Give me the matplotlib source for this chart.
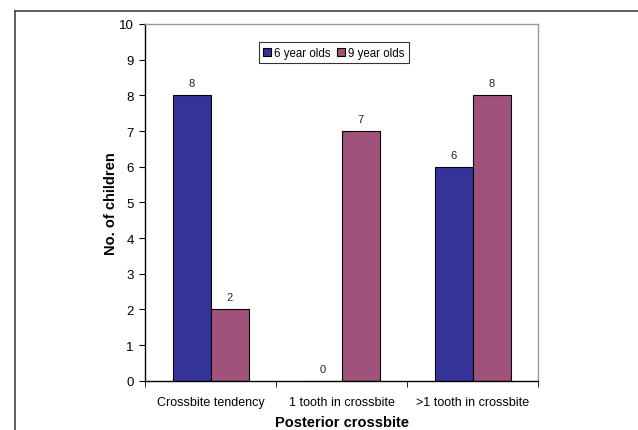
import numpy as np
import matplotlib
matplotlib.use('Agg')
from matplotlib import pyplot as plt
from matplotlib.lines import Line2D

plt.rcParams['font.family'] = ['Liberation Sans', 'DejaVu Sans']

categories = ['Crossbite tendency', '1 tooth in crossbite', '>1 tooth in crossbite']
six_year = [8, 0, 6]
nine_year = [2, 7, 8]
series_names = ['6 year olds', '9 year olds']
colors = ['#333399', '#A0527A']

fig = plt.figure(figsize=(6.38, 4.31), dpi=100)
ax = fig.add_axes([0.2273, 0.1144, 0.8433 - 0.2273, 0.942 - 0.1144])

x = np.arange(len(categories))
w = 0.29
b1 = ax.bar(x - w/2, six_year, w, color=colors[0], edgecolor='black', linewidth=0.8, label=series_names[0])
b2 = ax.bar(x + w/2, nine_year, w, color=colors[1], edgecolor='black', linewidth=0.8, label=series_names[1])

for bars, vals in ((b1, six_year), (b2, nine_year)):
    for r, v in zip(bars, vals):
        ax.text(r.get_x() + r.get_width()/2, v + 0.2, str(v), ha='center', va='bottom',
                fontsize=8, color='#222222')

ax.set_xlim(-0.5, 2.5)
ax.set_ylim(0, 10)
ax.set_yticks(range(11))
ax.set_xticks(x)
ax.set_xticklabels(categories, fontsize=9)
ax.tick_params(axis='x', length=0, pad=11)
ax.set_xticks([-0.5, 0.5, 1.5, 2.5], minor=True)
ax.tick_params(axis='x', which='minor', length=4, direction='out')
ax.tick_params(axis='y', labelsize=9.5, length=4, direction='out', pad=4)

for s in ['top', 'right']:
    ax.spines[s].set_color('#999999')
    ax.spines[s].set_linewidth(1)
for s in ['left', 'bottom']:
    ax.spines[s].set_color('black')
    ax.spines[s].set_linewidth(1)

ax.set_ylabel('No. of children', fontsize=10.5, fontweight='bold', labelpad=1)
ax.set_xlabel('Posterior crossbite', fontsize=10.5, fontweight='bold', labelpad=5)

leg = ax.legend(loc='upper center', bbox_to_anchor=(0.48, 0.949), ncol=2, fontsize=8.3,
                frameon=True, fancybox=False, edgecolor='black', handlelength=0.7,
                handleheight=0.7, handletextpad=0.2, columnspacing=0.6,
                borderpad=0.4, borderaxespad=0)
leg.get_frame().set_linewidth(0.8)

# outer frame
fig.add_artist(Line2D([15/638, 15/638], [0, 1 - 12/431], color='#444444', linewidth=1.2))
fig.add_artist(Line2D([15/638, 1], [1 - 12/431, 1 - 12/431], color='#444444', linewidth=1.2))

fig.savefig('out.png', dpi=100)
